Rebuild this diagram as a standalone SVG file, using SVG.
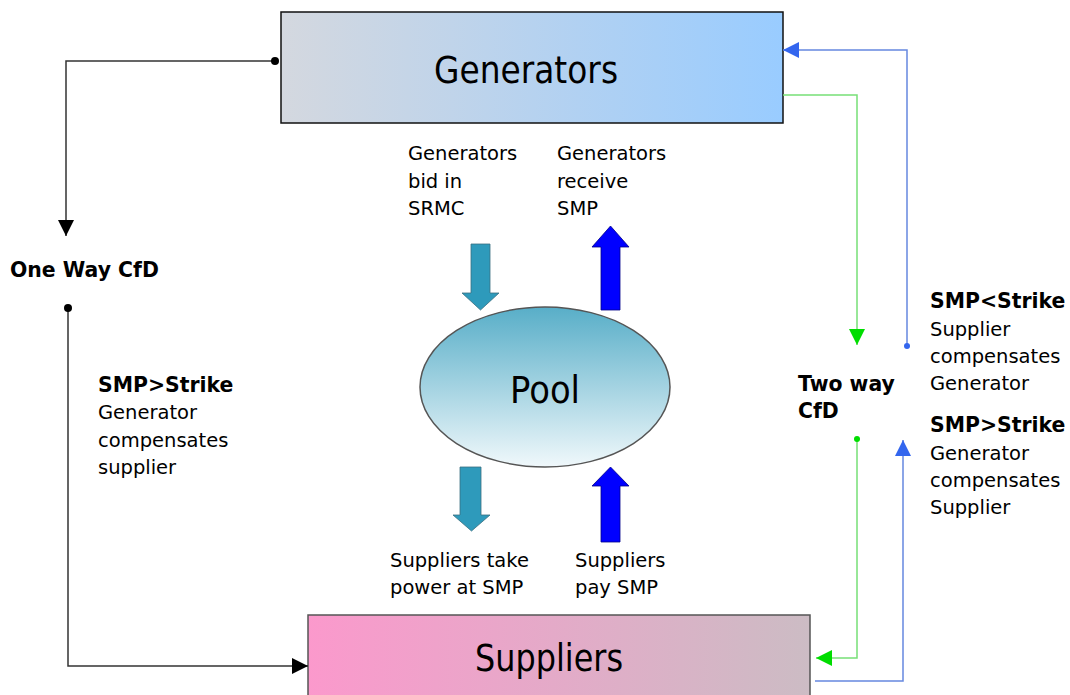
<svg xmlns="http://www.w3.org/2000/svg" width="1070" height="695" viewBox="0 0 1070 695">
<defs>
<linearGradient id="gGen" x1="0" y1="0" x2="1" y2="0">
<stop offset="0" stop-color="#d4d8df"/>
<stop offset="1" stop-color="#99ccff"/>
</linearGradient>
<linearGradient id="gSup" x1="0" y1="0" x2="1" y2="0">
<stop offset="0" stop-color="#fb99cc"/>
<stop offset="1" stop-color="#ccbcc4"/>
</linearGradient>
<linearGradient id="gPool" x1="0" y1="0" x2="0" y2="1">
<stop offset="0" stop-color="#58aec8"/>
<stop offset="1" stop-color="#f0f8fb"/>
</linearGradient>
<marker id="mBlack" viewBox="0 0 10 10" refX="10" refY="5" markerWidth="16" markerHeight="16" markerUnits="userSpaceOnUse" orient="auto">
<path d="M0,0 L10,5 L0,10 Z" fill="#000"/>
</marker>
<marker id="mGreen" viewBox="0 0 10 10" refX="10" refY="5" markerWidth="16" markerHeight="16" markerUnits="userSpaceOnUse" orient="auto">
<path d="M0,0 L10,5 L0,10 Z" fill="#00dd00"/>
</marker>
<marker id="mBlue" viewBox="0 0 10 10" refX="10" refY="5" markerWidth="16" markerHeight="16" markerUnits="userSpaceOnUse" orient="auto">
<path d="M0,0 L10,5 L0,10 Z" fill="#3366ee"/>
</marker>
</defs>
<style>
text{font-family:"DejaVu Sans","Liberation Sans",sans-serif;fill:#000;}
.t{font-size:19.5px;}
.b{font-size:20.4px;font-weight:bold;}
.big{font-size:37px;}
.conn{fill:none;stroke-width:1.5;}
.k{stroke:#333;}
.g{stroke:#77e077;}
.u{stroke:#6688e0;}
</style>

<g id="generators">
<rect x="281" y="12" width="502" height="111" fill="url(#gGen)" stroke="#111" stroke-width="1.5"/>
<text class="big" x="526" y="83" text-anchor="middle" textLength="184" lengthAdjust="spacingAndGlyphs">Generators</text>
</g>

<g id="pool">
<ellipse cx="545" cy="387" rx="125" ry="80" fill="url(#gPool)" stroke="#555" stroke-width="1.5"/>
<text class="big" x="545" y="403" text-anchor="middle" textLength="70" lengthAdjust="spacingAndGlyphs">Pool</text>
</g>

<g id="suppliers">
<rect x="308" y="615" width="502" height="100" fill="url(#gSup)" stroke="#555" stroke-width="1.5"/>
<text class="big" x="549" y="671" text-anchor="middle" textLength="148" lengthAdjust="spacingAndGlyphs">Suppliers</text>
</g>

<g id="flow-arrows">
<path d="M471,244 H490 V293 H499 L480.5,310 L462,293 H471 Z" fill="#2e9abb" stroke="#3a6f80" stroke-width="0.8"/>
<path d="M601,310 H620 V247 H629 L610.5,226 L592,247 H601 Z" fill="#0000ff" stroke="#00008a" stroke-width="0.8"/>
<path d="M460,467 H481 V515 H490 L471.5,531 L453,515 H460 Z" fill="#2e9abb" stroke="#3a6f80" stroke-width="0.8"/>
<path d="M601,542 H620 V486 H629 L610.5,467 L592,486 H601 Z" fill="#0000ff" stroke="#00008a" stroke-width="0.8"/>
</g>

<g id="connectors">
<path class="conn k" d="M275,61 H66 V236" marker-end="url(#mBlack)"/>
<circle cx="275" cy="61" r="4" fill="#000"/>
<path class="conn k" d="M68,308 V666 H308" marker-end="url(#mBlack)"/>
<circle cx="68" cy="308" r="4" fill="#000"/>
<path class="conn g" d="M783,95 H857 V345" marker-end="url(#mGreen)"/>
<path class="conn g" d="M857,439 V658 H816" marker-end="url(#mGreen)"/>
<circle cx="857" cy="439" r="3" fill="#00dd00"/>
<path class="conn u" d="M907,346 V50 H783" marker-end="url(#mBlue)"/>
<circle cx="907" cy="346" r="3" fill="#3366ee"/>
<path class="conn u" d="M815,681 H903 V440" marker-end="url(#mBlue)"/>
</g>

<g id="labels">
<text class="t" x="408" y="160">Generators</text>
<text class="t" x="408" y="188">bid in</text>
<text class="t" x="408" y="215">SRMC</text>
<text class="t" x="557" y="160">Generators</text>
<text class="t" x="557" y="188">receive</text>
<text class="t" x="557" y="215">SMP</text>
<text class="b" x="10" y="277">One Way CfD</text>
<text class="b" x="98" y="392">SMP&gt;Strike</text>
<text class="t" x="98" y="419">Generator</text>
<text class="t" x="98" y="447">compensates</text>
<text class="t" x="98" y="474">supplier</text>
<text class="b" x="930" y="308">SMP&lt;Strike</text>
<text class="t" x="930" y="336">Supplier</text>
<text class="t" x="930" y="363">compensates</text>
<text class="t" x="930" y="390">Generator</text>
<text class="b" x="798" y="391">Two way</text>
<text class="b" x="798" y="418">CfD</text>
<text class="b" x="930" y="432">SMP&gt;Strike</text>
<text class="t" x="930" y="460">Generator</text>
<text class="t" x="930" y="487">compensates</text>
<text class="t" x="930" y="514">Supplier</text>
<text class="t" x="390" y="567">Suppliers take</text>
<text class="t" x="390" y="594">power at SMP</text>
<text class="t" x="575" y="567">Suppliers</text>
<text class="t" x="575" y="594">pay SMP</text>
</g>
</svg>
